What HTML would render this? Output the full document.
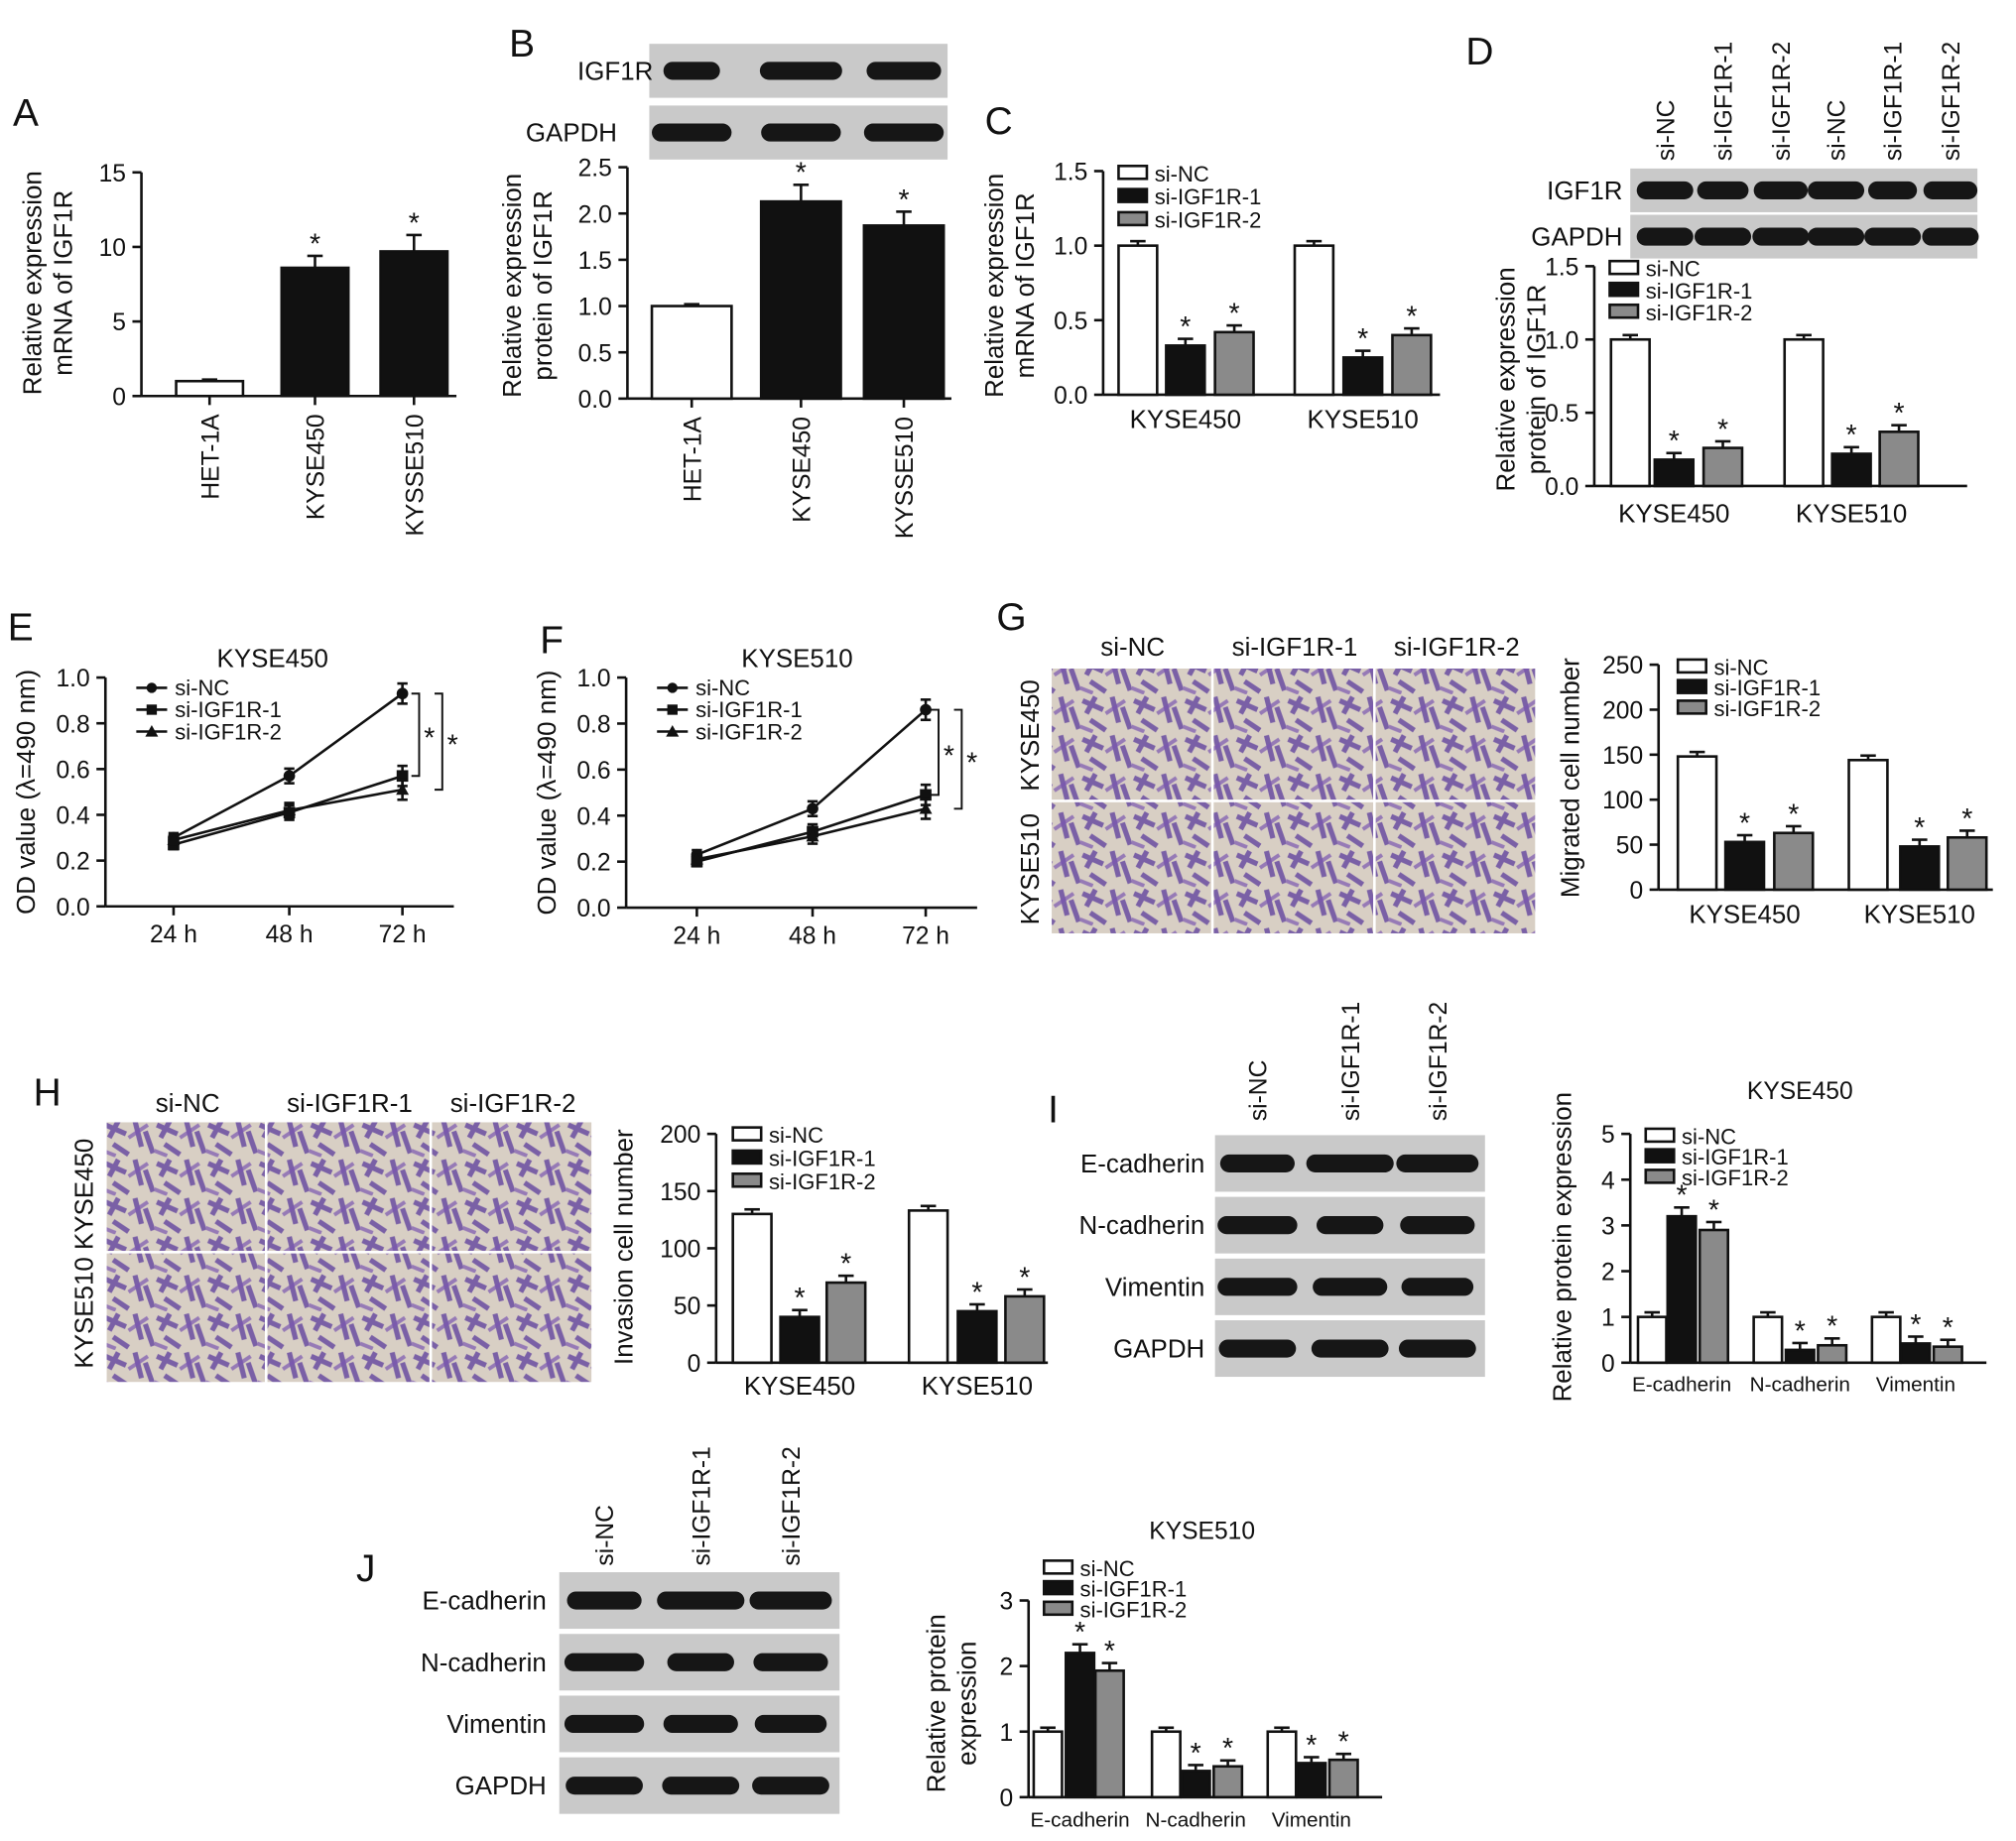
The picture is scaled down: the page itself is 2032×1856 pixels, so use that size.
<!DOCTYPE html>
<html><head><meta charset="utf-8"><style>
html,body{margin:0;padding:0;background:#fff;}
svg{display:block;font-family:"Liberation Sans",Arial,sans-serif;}
</style></head><body>
<svg id="fig" width="2032" height="1856" viewBox="0 0 1568 1432" xmlns="http://www.w3.org/2000/svg">
<defs>
<pattern id="cells" width="40" height="30" patternUnits="userSpaceOnUse">
<rect width="40" height="30" fill="#d8cfc4"/>
<path d="M2 5 L18 12 M25 2 L30 22 M8 20 L20 28 M33 10 L39 27 M12 2 L5 15" stroke="#5b3a9c" stroke-width="4" opacity="0.75"/>
<path d="M20 15 L35 5 M0 25 L10 29" stroke="#7a55b0" stroke-width="3" opacity="0.7"/>
</pattern>
</defs>
</svg>
<script>
const NS='http://www.w3.org/2000/svg';
const svg=document.getElementById('fig');
function el(tag,attrs,parent,txt){const e=document.createElementNS(NS,tag);for(const k in attrs)e.setAttribute(k,attrs[k]);if(txt!==undefined)e.textContent=txt;(parent||svg).appendChild(e);return e;}
function txt(x,y,s,size,opts,parent){opts=opts||{};const a={x:x,y:y,'font-size':size,fill:'#111','text-anchor':opts.anchor||'middle'};if(opts.rot!==undefined)a.transform='rotate('+opts.rot+' '+x+' '+y+')';const t=el('text',a,parent,s);return t;}

// ===== Panel A data =====
const aCats=['HET-1A','KYSE450','KYSSE510'];
const aVals=[1.0,8.6,9.7];
const aErr=[0.1,0.8,1.1];
const aTicks=[0,5,10,15];
// ===== Panel B =====
const bCats=['HET-1A','KYSE450','KYSSE510'];
const bVals=[1.0,2.13,1.87];
const bErr=[0.02,0.18,0.15];
const bTicks=[0,0.5,1.0,1.5,2.0,2.5];
// ===== Panel C =====
const cGroups=['KYSE450','KYSE510'];
const cNC=[1.0,1.0];
const cS1=[0.33,0.25];
const cS2=[0.42,0.40];
const cTicks=[0,0.5,1.0,1.5];
// ===== Panel D =====
const dGroups=['KYSE450','KYSE510'];
const dNC=[1.0,1.0];
const dS1=[0.18,0.22];
const dS2=[0.26,0.37];
const dTicks=[0,0.5,1.0,1.5];
// ===== Panel E =====
const eTimes=['24 h','48 h','72 h'];
const eNC=[0.30,0.57,0.93];
const eS1=[0.27,0.41,0.57];
const eS2=[0.29,0.42,0.51];
const eTicks=[0,0.2,0.4,0.6,0.8,1.0];
// ===== Panel F =====
const fTimes=['24 h','48 h','72 h'];
const fNC=[0.23,0.43,0.86];
const fS1=[0.20,0.33,0.49];
const fS2=[0.21,0.31,0.43];
const fTicks=[0,0.2,0.4,0.6,0.8,1.0];
// ===== Panel G =====
const gGroups=['KYSE450','KYSE510'];
const gNC=[148,144];
const gS1=[53,48];
const gS2=[63,58];
const gTicks=[0,50,100,150,200,250];
// ===== Panel H =====
const hGroups=['KYSE450','KYSE510'];
const hNC=[130,133];
const hS1=[40,45];
const hS2=[70,58];
const hTicks=[0,50,100,150,200];
// ===== Panel I =====
const iGroups=['E-cadherin','N-cadherin','Vimentin'];
const iNC=[1.0,1.0,1.0];
const iS1=[3.2,0.28,0.42];
const iS2=[2.9,0.38,0.35];
const iTicks=[0,1,2,3,4,5];
// ===== Panel J =====
const jGroups=['E-cadherin','N-cadherin','Vimentin'];
const jNC=[1.0,1.0,1.0];
const jS1=[2.2,0.40,0.52];
const jS2=[1.93,0.47,0.57];
const jTicks=[0,1,2,3];

const FILLS=['#fff','#111','#8a8a8a'];
function yScale(y0,y1,vmax){return v=>y0-(v/vmax)*(y0-y1);}

function axisY(g,x,y0,y1,ticks,vmax,fmt,size){
  const ys=yScale(y0,y1,vmax);
  const ln=el('line',{x1:x,y1:y0,x2:x,y2:ys(ticks[ticks.length-1]),stroke:'#111','stroke-width':2},g);
  
  ticks.forEach(t=>{el('line',{x1:x-7,y1:ys(t),x2:x,y2:ys(t),stroke:'#111','stroke-width':2},g);
    const tt=txt(x-12,ys(t)+7,fmt(t),size||19,{anchor:'end'},g);
    });
  return ys;
}
function bar(g,cx,w,ys,y0,v,err,fill,star,name){
  const top=ys(v);
  const ec=ys(v+err);
  el('line',{x1:cx,y1:top,x2:cx,y2:ec,stroke:'#111','stroke-width':2},g);
  el('line',{x1:cx-6,y1:ec,x2:cx+6,y2:ec,stroke:'#111','stroke-width':2},g);
  const r=el('rect',{x:cx-w/2,y:top,width:w,height:y0-top,fill:fill,stroke:'#111','stroke-width':2},g);
  
  if(star){const s=txt(cx,ec-2,'*',22,{},g);}
}
function legend(g,x,y,dy,size){
  ['si-NC','si-IGF1R-1','si-IGF1R-2'].forEach((n,i)=>{
    const r=el('rect',{x:x,y:y+i*dy-9,width:22,height:10,fill:FILLS[i],stroke:'#111','stroke-width':2},g);
    
    const t=txt(x+28,y+i*dy+3,n,size||17,{anchor:'start'},g);
    
  });
}
function panelLetter(x,y,L){const t=txt(x,y,L,30,{anchor:'start'});}
function group(name){const g=el('g',{});return g;}
function ytitle(g,x,y,lines,size){lines.forEach((l,i)=>{const t=txt(x+i*24,y,l,size||20,{rot:-90},g);});}

function simpleChart(name,ax,y0,y1,xEnd,ticks,fmt,cats,vals,errs,centers,w,titleX,titleY,title){
  const g=group(name);
  const ys=axisY(g,ax,y0,y1,ticks,ticks[ticks.length-1],fmt);
  const xl=el('line',{x1:ax,y1:y0,x2:xEnd,y2:y0,stroke:'#111','stroke-width':2},g);
  
  cats.forEach((c,i)=>{
    bar(g,centers[i],w,ys,y0,vals[i],errs[i],i==0?'#fff':'#111',i>0,'bar-'+c.toLowerCase());
    el('line',{x1:centers[i],y1:y0,x2:centers[i],y2:y0+7,stroke:'#111','stroke-width':2},g);
    const t=txt(centers[i]+7,y0+14,c,19,{anchor:'end',rot:-90},g);
    
  });
  ytitle(g,titleX,titleY,title);
}
simpleChart('chart-a',110,308,134,355,aTicks,t=>String(t),aCats,aVals,aErr,[163,245,322],52,32,220,['Relative expression','mRNA of IGF1R']);
simpleChart('chart-b',488,310,130,740,bTicks,t=>t.toFixed(1),bCats,bVals,bErr,[538,623,703],62,405,222,['Relative expression','protein of IGF1R']);

function groupedChart(name,ax,y0,y1,xEnd,ticks,fmt,groups,s,centers,w,starsAll,tsize,labelY,lsize){
  const g=group(name);
  const ys=axisY(g,ax,y0,y1,ticks,ticks[ticks.length-1],fmt,tsize);
  const xl=el('line',{x1:ax,y1:y0,x2:xEnd,y2:y0,stroke:'#111','stroke-width':2},g);
  
  const maxv=ticks[ticks.length-1];
  groups.forEach((gr,i)=>{
    for(let k=0;k<3;k++){
      const v=s[k][i];
      const err=k==0?0.02*maxv:Math.max(0.03*maxv,v*0.06);
      bar(g,centers[i][k],w,ys,y0,v,err,FILLS[k],k>0,'bar-'+gr.toLowerCase()+'-'+k);
    }
    const t=txt(centers[i][1],labelY,gr,lsize||20,{},g);
    
  });
  return g;
}
let g;
g=groupedChart('chart-c',858,307,133,1120,cTicks,t=>t.toFixed(1),cGroups,[cNC,cS1,cS2],[[885,922,960],[1022,1060,1098]],30,true,19,333);
legend(g,870,138,18,17);ytitle(g,780,222,['Relative expression','mRNA of IGF1R']);
g=groupedChart('chart-d',1240,378,207,1530,dTicks,t=>t.toFixed(1),dGroups,[dNC,dS1,dS2],[[1268,1302,1340],[1403,1440,1477]],30,true,19,406);
legend(g,1252,212,17,17);ytitle(g,1178,295,['Relative expression','protein of IGF1R']);
g=groupedChart('chart-g',1290,692,517,1550,gTicks,t=>String(t),gGroups,[gNC,gS1,gS2],[[1320,1357,1395],[1453,1493,1530]],30,true,19,718);
legend(g,1305,522,16,17);ytitle(g,1228,605,['Migrated cell number']);
g=groupedChart('chart-h',557,1060,882,815,hTicks,t=>String(t),hGroups,[hNC,hS1,hS2],[[585,622,658],[722,760,797]],30,true,19,1085);
legend(g,570,886,18,17);ytitle(g,492,970,['Invasion cell number']);
g=groupedChart('chart-i',1268,1060,882,1545,iTicks,t=>String(t),iGroups,[iNC,iS1,iS2],[[1285,1308,1333],[1375,1400,1425],[1467,1490,1515]],22,true,19,1082,16);
legend(g,1280,887,16,17);ytitle(g,1222,970,['Relative protein expression']);
txt(1400,855,'KYSE450',19,{},g);
g=groupedChart('chart-j',800,1398,1245,1075,jTicks,t=>String(t),jGroups,[jNC,jS1,jS2],[[815,840,863],[907,930,955],[997,1020,1045]],22,true,19,1421,16);
legend(g,812,1223,16,17);ytitle(g,735,1325,['Relative protein','expression']);
txt(935,1197,'KYSE510',19,{},g);

function lineChart(name,ax,y0,y1,times,xs,series,ticks,title,tx,brX){
  const g=group(name);
  const ys=axisY(g,ax,y0,y1,ticks,1.0,t=>t.toFixed(1));
  const xl=el('line',{x1:ax,y1:y0,x2:xs[2]+40,y2:y0,stroke:'#111','stroke-width':2},g);
  
  times.forEach((t,i)=>{el('line',{x1:xs[i],y1:y0,x2:xs[i],y2:y0+7,stroke:'#111','stroke-width':2},g);
    const tt=txt(xs[i],y0+28,t,19,{},g);});
  const markers=['circle','square','triangle'];
  series.forEach((s,k)=>{
    const pts=s.map((v,i)=>xs[i]+','+ys(v)).join(' ');
    const pl=el('polyline',{points:pts,fill:'none',stroke:'#111','stroke-width':2},g);
    
    s.forEach((v,i)=>{
      const x=xs[i],y=ys(v),e=0.02*(1+i*0.6);
      el('line',{x1:x,y1:ys(v-e),x2:x,y2:ys(v+e),stroke:'#111','stroke-width':2},g);
      el('line',{x1:x-4,y1:ys(v+e),x2:x+4,y2:ys(v+e),stroke:'#111','stroke-width':2},g);
      el('line',{x1:x-4,y1:ys(v-e),x2:x+4,y2:ys(v-e),stroke:'#111','stroke-width':2},g);
      let m;
      if(k==0)m=el('circle',{cx:x,cy:y,r:4.5,fill:'#111'},g);
      else if(k==1)m=el('rect',{x:x-4.5,y:y-4.5,width:9,height:9,fill:'#111'},g);
      else m=el('polygon',{points:(x)+','+(y-5)+' '+(x-5)+','+(y+4)+' '+(x+5)+','+(y+4),fill:'#111'},g);
      
    });
  });
  ['si-NC','si-IGF1R-1','si-IGF1R-2'].forEach((n,i)=>{
    const y=y1+8+i*17;
    el('line',{x1:ax+24,y1:y,x2:ax+48,y2:y,stroke:'#111','stroke-width':2},g);
    const x=ax+36;
    if(i==0)el('circle',{cx:x,cy:y,r:4,fill:'#111'},g);
    else if(i==1)el('rect',{x:x-4,y:y-4,width:8,height:8,fill:'#111'},g);
    else el('polygon',{points:x+','+(y-5)+' '+(x-5)+','+(y+4)+' '+(x+5)+','+(y+4),fill:'#111'},g);
    const t=txt(ax+54,y+6,n,17,{anchor:'start'},g);
  });
  const top=ys(series[0][2]);
  [[1,brX],[2,brX+18]].forEach(([k,bx])=>{
    const bot=ys(series[k][2]);
    el('polyline',{points:(bx-6)+','+top+' '+bx+','+top+' '+bx+','+bot+' '+(bx-6)+','+bot,fill:'none',stroke:'#111','stroke-width':1.5},g);
    txt(bx+8,(top+bot)/2+10,'*',22,{},g);
  });
  txt(tx,y1-8,title,20,{},g);
  ytitle(g,ax-55,(y0+y1)/2,['OD value (λ=490 nm)']);
}
lineChart('chart-e',82,705,527,eTimes,[135,225,313],[eNC,eS1,eS2],eTicks,'KYSE450',212,326);
lineChart('chart-f',487,706,527,fTimes,[542,632,720],[fNC,fS1,fS2],fTicks,'KYSE510',620,730);

function blot(name,x,y,w,h,lanes,widths,label,labelX){
  const g=group(name);
  const bg=el('rect',{x:x,y:y-h/2,width:w,height:h,fill:'#c9c9c9'},g);
  
  lanes.forEach((lx,i)=>{const b=el('rect',{x:lx-widths[i]/2,y:y-7,width:widths[i],height:14,rx:7,fill:'#161616'},g);
    });
  const t=txt(labelX,y+7,label,20,{anchor:'end'},g);
}
blot('blot-b-igf1r',505,55,232,42,[538,623,703],[44,64,58],'IGF1R',508);
blot('blot-b-gapdh',505,103,232,42,[538,623,703],[62,62,62],'GAPDH',480);
const dl=[1295,1340,1385,1428,1472,1517];
blot('blot-d-igf1r',1268,148,270,34,dl,[44,40,42,44,38,42],'IGF1R',1262);
blot('blot-d-gapdh',1268,184,270,34,dl,[44,44,44,44,44,44],'GAPDH',1262);
['si-NC','si-IGF1R-1','si-IGF1R-2','si-NC','si-IGF1R-1','si-IGF1R-2'].forEach((s,i)=>{const t=txt(dl[i]+7,125,s,19,{anchor:'start',rot:-90});});
const il=[978,1050,1118];
[['E-cadherin',[58,68,64]],['N-cadherin',[62,52,58]],['Vimentin',[62,58,56]],['GAPDH',[60,60,60]]].forEach(([n,w],r)=>{
  blot('blot-i-'+n.toLowerCase(),945,905+r*48,210,44,il,w,n,937);
  blot('blot-j-'+n.toLowerCase(),435,1245+r*48,218,44,[470,545,615],w,n,425);
});
['si-NC','si-IGF1R-1','si-IGF1R-2'].forEach((s,i)=>{
  let t=txt(il[i]+7,872,s,19,{anchor:'start',rot:-90});
  t=txt([470,545,615][i]+7,1218,s,19,{anchor:'start',rot:-90});
});

function micro(name,cols,rows){
  const g=group(name);
  for(let c=0;c<cols.length-1;c++)for(let r=0;r<rows.length-1;r++){
    const m=el('rect',{x:cols[c],y:rows[r],width:cols[c+1]-cols[c]-2,height:rows[r+1]-rows[r]-2,fill:'url(#cells)'},g);
    
  }
  return g;
}
micro('micrographs-g',[818,944,1070,1196],[520,624,728]);
micro('micrographs-h',[83,208,336,462],[873,975,1077]);
[['si-NC',881],['si-IGF1R-1',1007],['si-IGF1R-2',1133]].forEach(([s,x])=>{const t=txt(x,510,s,20);});
[['si-NC',146],['si-IGF1R-1',272],['si-IGF1R-2',399]].forEach(([s,x])=>{const t=txt(x,865,s,20);});
txt(808,572,'KYSE450',20,{rot:-90});
txt(808,676,'KYSE510',20,{rot:-90});
txt(72,975,'KYSE510 KYSE450',20,{rot:-90});

panelLetter(10,98,'A');panelLetter(396,44,'B');panelLetter(766,104,'C');panelLetter(1140,50,'D');
panelLetter(6,498,'E');panelLetter(420,508,'F');panelLetter(775,490,'G');panelLetter(26,860,'H');
panelLetter(815,873,'I');panelLetter(277,1230,'J');
</script>
</body></html>
